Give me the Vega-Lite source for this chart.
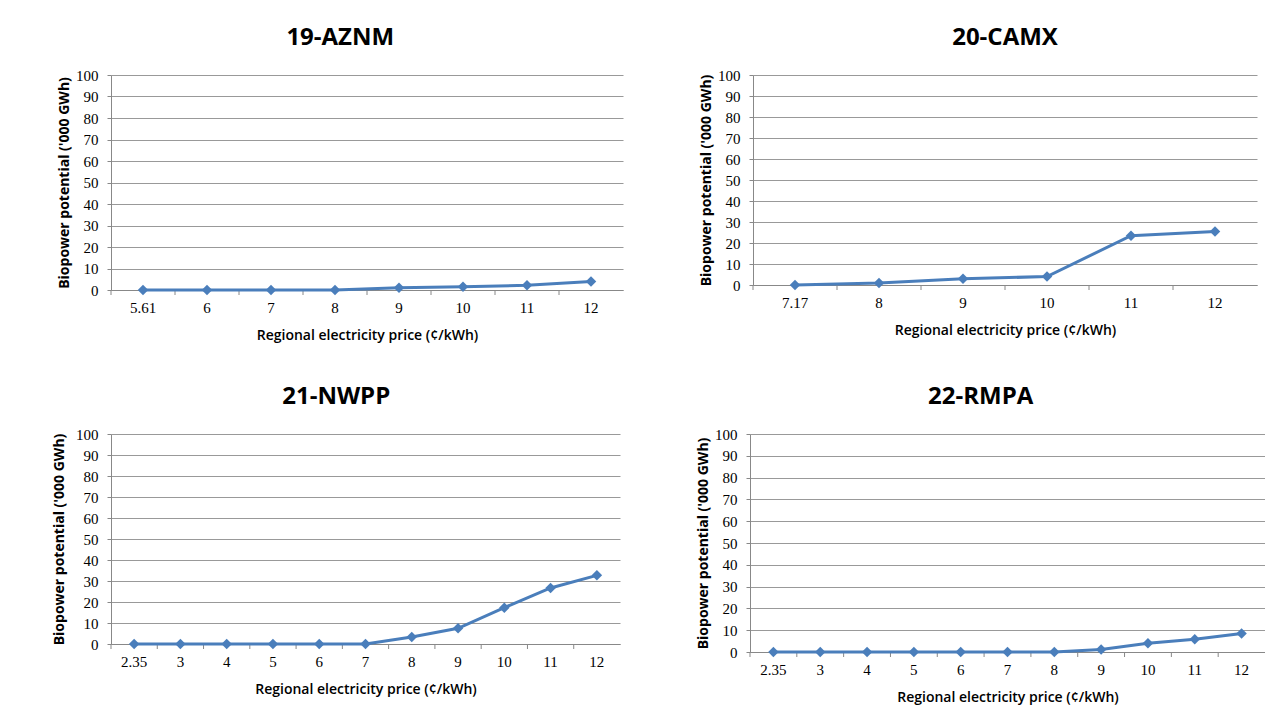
{
  "$schema": "https://vega.github.io/schema/vega-lite/v6.json",
  "background": "white",
  "padding": {"left": 52, "top": 26, "right": 0, "bottom": 20},
  "config": {
    "view": {"stroke": null},
    "font": "Open Sans",
    "title": {"font": "Open Sans", "fontSize": 24, "fontWeight": "bold", "color": "#000000", "anchor": "middle", "offset": 18, "frame": "bounds"},
    "axis": {
      "labelFont": "Liberation Serif", "labelFontSize": 15, "labelColor": "#000000",
      "titleFont": "Open Sans", "titleFontSize": 14, "titleFontWeight": "bold", "titleColor": "#000000",
      "domainColor": "#888888", "gridColor": "#999999", "tickColor": "#888888"
    },
    "axisX": {"grid": false, "ticks": false, "labelAngle": 0, "labelPadding": 10, "titlePadding": 13, "titleFontWeight": 600},
    "axisY": {"ticks": true, "tickSize": 4, "labelPadding": 9, "titlePadding": 4}
  },
  "datasets": {
    "aznm": [
      {"price": "5.61", "potential": 0}, {"price": "6", "potential": 0}, {"price": "7", "potential": 0},
      {"price": "8", "potential": 0}, {"price": "9", "potential": 1}, {"price": "10", "potential": 1.5},
      {"price": "11", "potential": 2.2}, {"price": "12", "potential": 4}
    ],
    "camx": [
      {"price": "7.17", "potential": 0}, {"price": "8", "potential": 1}, {"price": "9", "potential": 3},
      {"price": "10", "potential": 4}, {"price": "11", "potential": 23.5}, {"price": "12", "potential": 25.5}
    ],
    "nwpp": [
      {"price": "2.35", "potential": 0}, {"price": "3", "potential": 0}, {"price": "4", "potential": 0},
      {"price": "5", "potential": 0}, {"price": "6", "potential": 0}, {"price": "7", "potential": 0},
      {"price": "8", "potential": 3.3}, {"price": "9", "potential": 7.5}, {"price": "10", "potential": 17.3},
      {"price": "11", "potential": 26.7}, {"price": "12", "potential": 32.7}
    ],
    "rmpa": [
      {"price": "2.35", "potential": 0}, {"price": "3", "potential": 0}, {"price": "4", "potential": 0},
      {"price": "5", "potential": 0}, {"price": "6", "potential": 0}, {"price": "7", "potential": 0},
      {"price": "8", "potential": 0}, {"price": "9", "potential": 1.2}, {"price": "10", "potential": 4},
      {"price": "11", "potential": 5.8}, {"price": "12", "potential": 8.5}
    ]
  },
  "spacing": 43,
  "vconcat": [
    {
      "spacing": 76,
      "hconcat": [
        {
          "title": {"text": "19-AZNM"},
          "width": 512, "height": 215,
          "data": {"name": "aznm"},
          "encoding": {
            "x": {"field": "price", "type": "ordinal", "sort": null, "scale": {"type": "band", "paddingInner": 0, "paddingOuter": 0}, "axis": {"title": "Regional electricity price (¢/kWh)"}},
            "y": {"field": "potential", "type": "quantitative", "scale": {"domain": [0, 100]}, "axis": {"title": "Biopower potential ('000 GWh)", "values": [0, 10, 20, 30, 40, 50, 60, 70, 80, 90, 100]}}
          },
          "layer": [
            {"mark": {"type": "rule", "color": "#888888", "y2Offset": 5}, "encoding": {"x": {"field": "price", "type": "ordinal", "sort": null, "bandPosition": 0}, "y": {"datum": 0}, "y2": {"datum": 0}}},
            {"mark": {"type": "line", "color": "#4a7ebb", "strokeWidth": 3}},
            {"mark": {"type": "point", "shape": "diamond", "filled": true, "size": 110, "color": "#4a7ebb", "opacity": 1}}
          ]
        },
        {
          "title": {"text": "20-CAMX", "frame": "group"},
          "width": 504, "height": 210,
          "data": {"name": "camx"},
          "encoding": {
            "x": {"field": "price", "type": "ordinal", "sort": null, "scale": {"type": "band", "paddingInner": 0, "paddingOuter": 0}, "axis": {"title": "Regional electricity price (¢/kWh)"}},
            "y": {"field": "potential", "type": "quantitative", "scale": {"domain": [0, 100]}, "axis": {"title": "Biopower potential ('000 GWh)", "values": [0, 10, 20, 30, 40, 50, 60, 70, 80, 90, 100]}}
          },
          "layer": [
            {"mark": {"type": "rule", "color": "#888888", "y2Offset": 5}, "encoding": {"x": {"field": "price", "type": "ordinal", "sort": null, "bandPosition": 0}, "y": {"datum": 0}, "y2": {"datum": 0}}},
            {"mark": {"type": "line", "color": "#4a7ebb", "strokeWidth": 3}},
            {"mark": {"type": "point", "shape": "diamond", "filled": true, "size": 110, "color": "#4a7ebb", "opacity": 1}}
          ]
        }
      ]
    },
    {
      "spacing": 76,
      "hconcat": [
        {
          "title": {"text": "21-NWPP"},
          "width": 509, "height": 210,
          "data": {"name": "nwpp"},
          "encoding": {
            "x": {"field": "price", "type": "ordinal", "sort": null, "scale": {"type": "band", "paddingInner": 0, "paddingOuter": 0}, "axis": {"title": "Regional electricity price (¢/kWh)"}},
            "y": {"field": "potential", "type": "quantitative", "scale": {"domain": [0, 100]}, "axis": {"title": "Biopower potential ('000 GWh)", "titlePadding": 9, "values": [0, 10, 20, 30, 40, 50, 60, 70, 80, 90, 100]}}
          },
          "layer": [
            {"mark": {"type": "rule", "color": "#888888", "y2Offset": 5}, "encoding": {"x": {"field": "price", "type": "ordinal", "sort": null, "bandPosition": 0}, "y": {"datum": 0}, "y2": {"datum": 0}}},
            {"mark": {"type": "line", "color": "#4a7ebb", "strokeWidth": 3}},
            {"mark": {"type": "point", "shape": "diamond", "filled": true, "size": 110, "color": "#4a7ebb", "opacity": 1}}
          ]
        },
        {
          "title": {"text": "22-RMPA"},
          "width": 515, "height": 218,
          "data": {"name": "rmpa"},
          "encoding": {
            "x": {"field": "price", "type": "ordinal", "sort": null, "scale": {"type": "band", "paddingInner": 0, "paddingOuter": 0}, "axis": {"title": "Regional electricity price (¢/kWh)"}},
            "y": {"field": "potential", "type": "quantitative", "scale": {"domain": [0, 100]}, "axis": {"title": "Biopower potential ('000 GWh)", "values": [0, 10, 20, 30, 40, 50, 60, 70, 80, 90, 100]}}
          },
          "layer": [
            {"mark": {"type": "rule", "color": "#888888", "y2Offset": 5}, "encoding": {"x": {"field": "price", "type": "ordinal", "sort": null, "bandPosition": 0}, "y": {"datum": 0}, "y2": {"datum": 0}}},
            {"mark": {"type": "line", "color": "#4a7ebb", "strokeWidth": 3}},
            {"mark": {"type": "point", "shape": "diamond", "filled": true, "size": 110, "color": "#4a7ebb", "opacity": 1}}
          ]
        }
      ]
    }
  ]
}
